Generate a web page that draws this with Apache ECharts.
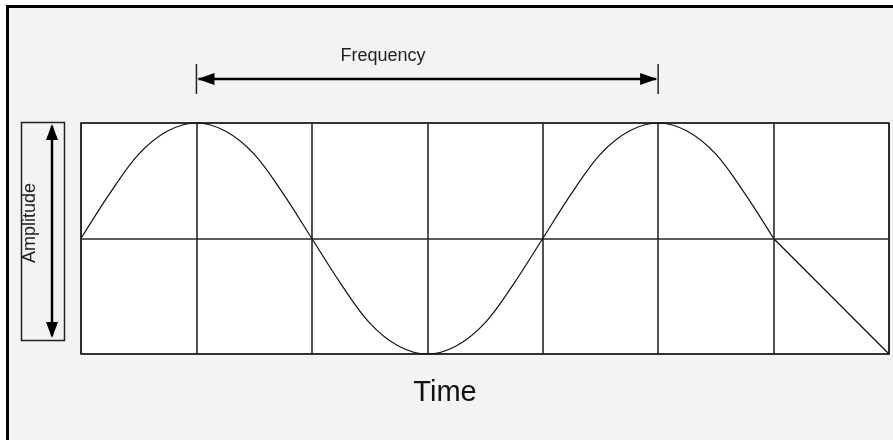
<!DOCTYPE html>
<html>
<head>
<meta charset="utf-8">
<script src="https://cdn.jsdelivr.net/npm/echarts@6/dist/echarts.min.js"></script>
<style>
  html, body { margin: 0; padding: 0; background: #fff; overflow: hidden; }
  #frame {
    position: absolute; left: 6px; top: 5px; width: 900px; height: 450px;
    border: 3px solid #000; background: #f3f3f3;
  }
  #chart { position: absolute; left: 0; top: 0; width: 893px; height: 440px; }
</style>
</head>
<body>
<div id="frame"></div>
<div id="chart"></div>
<script>
// time positions (grid divisions) and amplitude
const waveTime = [
  0, 0.25, 0.5, 0.75, 1, 1.25, 1.5, 1.75,
  2, 2.25, 2.5, 2.75, 3, 3.25, 3.5, 3.75,
  4, 4.25, 4.5, 4.75, 5, 5.25, 5.5, 5.75,
  6,
];
const waveAmplitude = [
  0, 0.39, 0.73, 0.93, 1, 0.93, 0.73, 0.39,
  0, -0.39, -0.73, -0.93, -1, -0.93, -0.73, -0.39,
  0, 0.39, 0.73, 0.93, 1, 0.93, 0.73, 0.39,
  0,
];
// the straight drop in the last division
const tailTime = [6, 7];
const tailAmplitude = [0, -1];
const frequencySpan = [1, 5];
const labels = { x: "Time", y: "Amplitude", span: "Frequency" };

const FONT = "'Liberation Sans', Arial, sans-serif";
const gridLine = { color: "#262626", width: 1.6 };
const traceStyle = { color: "#111", width: 1.2 };

const pairs = (xs, ys) => xs.map((x, i) => [x, ys[i]]);

const chart = echarts.init(document.getElementById("chart"), null, { renderer: "canvas" });

chart.setOption({
  animation: false,
  backgroundColor: "transparent",
  grid: {
    left: 81, right: 4, top: 123, bottom: 86,
    show: true, backgroundColor: "#fff",
    borderColor: "#262626", borderWidth: 1.6,
  },
  xAxis: {
    type: "value", min: 0, max: 7, interval: 1,
    axisLine: { show: false }, axisTick: { show: false }, axisLabel: { show: false },
    splitLine: { show: true, lineStyle: gridLine },
    name: labels.x, nameLocation: "middle", nameGap: 24,
    nameTextStyle: { fontFamily: FONT, fontSize: 29, color: "#111", padding: [0, 80, 0, 0] },
  },
  yAxis: {
    type: "value", min: -1, max: 1, interval: 1,
    axisLine: { show: false }, axisTick: { show: false }, axisLabel: { show: false },
    splitLine: { show: true, lineStyle: gridLine },
  },
  series: [
    {
      type: "line",
      data: pairs(waveTime, waveAmplitude),
      smooth: 0.35,
      showSymbol: false,
      clip: false,
      lineStyle: traceStyle,
    },
    {
      type: "line",
      data: pairs(tailTime, tailAmplitude),
      showSymbol: false,
      clip: false,
      lineStyle: traceStyle,
    },
  ],
});

// annotation arrows placed from the axes' scales
const [fx0] = chart.convertToPixel({ gridIndex: 0 }, [frequencySpan[0], 0]);
const [fx1] = chart.convertToPixel({ gridIndex: 0 }, [frequencySpan[1], 0]);
const fy = 79;
const ax = 52, ayTop = 124, ayBot = 338;

chart.setOption({
  graphic: [
    // frequency arrow
    { type: "line", shape: { x1: fx0, y1: 64, x2: fx0, y2: 94 }, style: { stroke: "#222", lineWidth: 1.5 } },
    { type: "line", shape: { x1: fx1, y1: 64, x2: fx1, y2: 94 }, style: { stroke: "#222", lineWidth: 1.5 } },
    { type: "line", shape: { x1: fx0 + 2, y1: fy, x2: fx1 - 2, y2: fy }, style: { stroke: "#000", lineWidth: 2.5 } },
    { type: "polygon", shape: { points: [[fx0 + 1, fy], [fx0 + 18, fy - 6], [fx0 + 18, fy + 6]] }, style: { fill: "#000" } },
    { type: "polygon", shape: { points: [[fx1 - 1, fy], [fx1 - 18, fy - 6], [fx1 - 18, fy + 6]] }, style: { fill: "#000" } },
    {
      type: "text", x: 383, y: 65,
      style: { text: labels.span, font: `18px ${FONT}`, fill: "#222", textAlign: "center", textVerticalAlign: "bottom" },
    },
    // amplitude box and arrow
    { type: "rect", shape: { x: 21.5, y: 122.5, width: 43, height: 218 }, style: { stroke: "#222", lineWidth: 1.5, fill: "none" } },
    { type: "line", shape: { x1: ax, y1: ayTop + 2, x2: ax, y2: ayBot - 2 }, style: { stroke: "#000", lineWidth: 2.5 } },
    { type: "polygon", shape: { points: [[ax, ayTop], [ax - 6, ayTop + 16], [ax + 6, ayTop + 16]] }, style: { fill: "#000" } },
    { type: "polygon", shape: { points: [[ax, ayBot], [ax - 6, ayBot - 16], [ax + 6, ayBot - 16]] }, style: { fill: "#000" } },
    {
      type: "text", x: 30, y: 223, rotation: Math.PI / 2,
      style: { text: labels.y, font: `18px ${FONT}`, fill: "#222", textAlign: "center", textVerticalAlign: "middle" },
    },
  ],
});
</script>
</body>
</html>
